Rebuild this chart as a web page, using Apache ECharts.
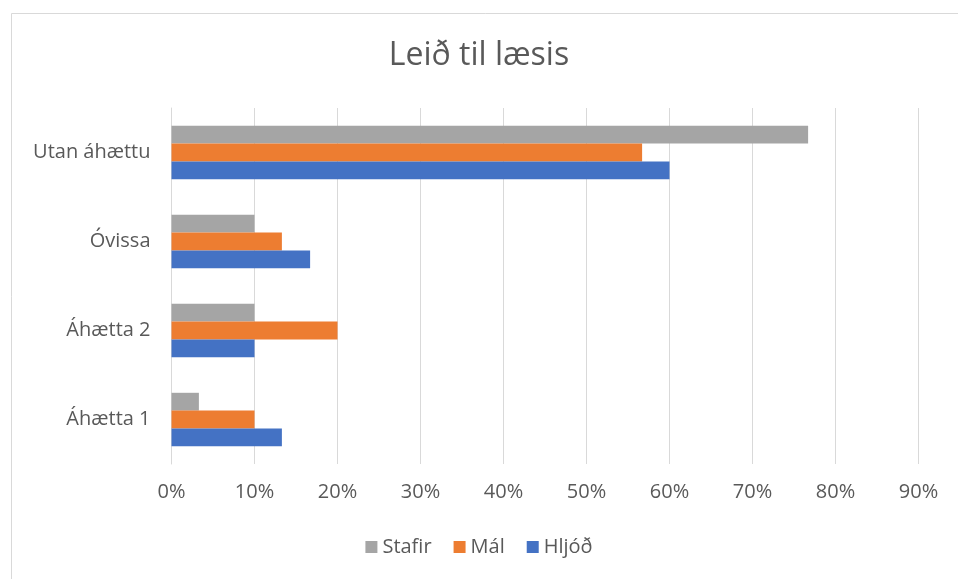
<!DOCTYPE html>
<html>
<head>
<meta charset="utf-8">
<script src="https://cdn.jsdelivr.net/npm/echarts@6/dist/echarts.min.js"></script>
<style>
html,body{margin:0;padding:0;background:#fff;}
#chart{width:958px;height:579px;}
</style>
</head>
<body>
<div id="chart"></div>
<script>
const categories = ['Áhætta 1', 'Áhætta 2', 'Óvissa', 'Utan áhættu'];
const hljod = [13.3, 10, 16.7, 60];
const mal = [10, 20, 13.3, 56.7];
const stafir = [3.3, 10, 10, 76.7];
const xTicks = [0, 10, 20, 30, 40, 50, 60, 70, 80, 90];

const FONT = 'Open Sans';
const TXT = '#595959';
const chart = echarts.init(document.getElementById('chart'), null, {renderer: 'canvas'});
chart.setOption({
  backgroundColor: '#fff',
  animation: false,
  graphic: [{
    type: 'rect', left: 9, top: 11, silent: true,
    shape: {width: 960, height: 580},
    style: {fill: 'none', stroke: '#d9d9d9', lineWidth: 1}
  }],
  title: {
    text: 'Leið til læsis', left: 'center', top: 35,
    textStyle: {fontFamily: FONT, fontSize: 32, fontWeight: 'normal', color: TXT}
  },
  legend: {
    data: ['Stafir', 'Mál', 'Hljóð'],
    top: 532, left: 'center',
    itemWidth: 12, itemHeight: 12, itemGap: 22, icon: 'rect',
    textStyle: {fontFamily: FONT, fontSize: 20, color: TXT}
  },
  grid: {left: 171.5, right: 39.5, top: 108, bottom: 115},
  xAxis: {
    type: 'value', min: 0, max: 90, interval: 10,
    axisLine: {show: false}, axisTick: {show: false},
    axisLabel: {
      formatter: function (v) { return xTicks.indexOf(v) >= 0 ? v + '%' : ''; },
      fontFamily: FONT, fontSize: 20, color: TXT, margin: 18
    },
    splitLine: {show: true, lineStyle: {color: '#d9d9d9', width: 1}}
  },
  yAxis: {
    type: 'category', data: categories,
    axisLine: {show: true, lineStyle: {color: '#d9d9d9'}},
    axisTick: {show: false},
    axisLabel: {fontFamily: FONT, fontSize: 20, color: TXT, margin: 21}
  },
  series: [
    {name: 'Stafir', type: 'bar', data: stafir, itemStyle: {color: '#A5A5A5'}, barGap: '0%', barCategoryGap: '40%'},
    {name: 'Mál', type: 'bar', data: mal, itemStyle: {color: '#ED7D31'}, barGap: '0%', barCategoryGap: '40%'},
    {name: 'Hljóð', type: 'bar', data: hljod, itemStyle: {color: '#4472C4'}, barGap: '0%', barCategoryGap: '40%'}
  ]
});
</script>
</body>
</html>
